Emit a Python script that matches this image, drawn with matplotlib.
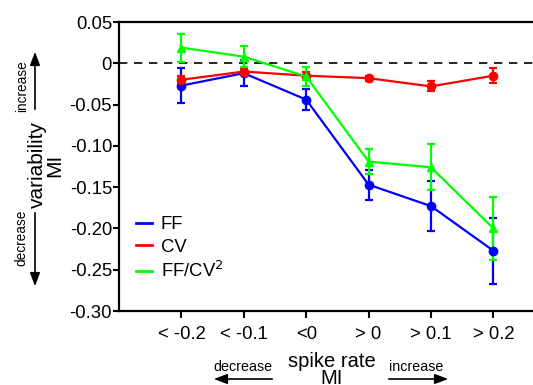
import matplotlib.pyplot as plt
import numpy as np
from matplotlib.lines import Line2D
from matplotlib.patches import FancyArrowPatch

plt.rcParams["font.family"] = ["Liberation Sans", "DejaVu Sans"]

categories = ["< -0.2", "< -0.1", "<0", "> 0", "> 0.1", "> 0.2"]

ff = [-0.027, -0.012, -0.044, -0.147, -0.173, -0.227]
ff_err = [0.021, 0.016, 0.013, 0.018, 0.030, 0.040]

cv = [-0.020, -0.010, -0.015, -0.018, -0.028, -0.015]
cv_err = [0.005, 0.003, 0.004, 0.003, 0.006, 0.009]

ffcv2 = [0.019, 0.008, -0.016, -0.119, -0.126, -0.200]
ffcv2_err = [0.017, 0.013, 0.012, 0.015, 0.028, 0.038]

series = [("FF", ff, ff_err, "#0000ff", "o"),
          ("CV", cv, cv_err, "#ff0000", "o"),
          ("FF/CV$^2$", ffcv2, ffcv2_err, "#00ff00", "^")]

W, H = 533, 385
fig = plt.figure(figsize=(W / 100, H / 100), dpi=100)
ax = fig.add_axes([119 / W, 1 - 311 / H, 1 - 119 / W + 0.01, (311 - 22) / H])

x = np.arange(len(categories))
handles = []
for label, vals, errs, color, marker in series:
    ax.errorbar(x, vals, yerr=errs, color=color, marker=marker, lw=1.6,
                elinewidth=1.6, capsize=3, capthick=1.6, markersize=6)
    handles.append(Line2D([], [], color=color, lw=2, label=label))
ax.axhline(0, color="black", lw=1.2, ls=(0, (5, 4)), zorder=0)

ax.set_xlim(-1, 5.72)
ax.set_ylim(-0.30, 0.05)
ax.set_xticks(x)
ax.set_xticklabels(categories)
ticks = np.arange(-0.30, 0.051, 0.05)
ax.set_yticks(ticks)
ax.set_yticklabels(["0" if abs(t) < 1e-9 else ("%.2f" % t) for t in ticks])
ax.tick_params(labelsize=13.3, width=1.5, length=4, direction="out")
ax.tick_params(axis="y", pad=1)
ax.tick_params(axis="x", length=5, pad=6)
ax.spines["right"].set_visible(False)
for s in ["left", "top", "bottom"]:
    ax.spines[s].set_linewidth(1.6)

ax.legend(handles=handles, loc="lower left", bbox_to_anchor=(0.0, 0.045),
          frameon=False, fontsize=13.3, handlelength=0.9, handletextpad=0.45,
          labelspacing=0.3, borderaxespad=0.5)

arr = dict(arrowstyle="-|>,head_length=0.8,head_width=0.3", color="black",
           lw=1.2, mutation_scale=10, transform=fig.transFigure)


def arrow(x0, y0, x1, y1):
    fig.add_artist(FancyArrowPatch((x0 / W, 1 - y0 / H), (x1 / W, 1 - y1 / H), **arr))


# y label with arrows
fig.text(46 / W, 1 - 165 / H, "variability\nMI", rotation=90, fontsize=15,
         ha="center", va="center", linespacing=0.85)
fig.text(22 / W, 1 - 86 / H, "increase", rotation=90, fontsize=9.8,
         ha="center", va="center")
fig.text(21 / W, 1 - 238 / H, "decrease", rotation=90, fontsize=9.8,
         ha="center", va="center")
arrow(35, 112, 35, 49)
arrow(35, 210, 35, 289)

# x label with arrows
fig.text(332 / W, 1 - 370 / H, "spike rate\nMI", fontsize=14.5, ha="center",
         va="center", linespacing=0.85)
fig.text(243 / W, 1 - 367 / H, "decrease", fontsize=10.3, ha="center", va="center")
fig.text(416 / W, 1 - 367 / H, "increase", fontsize=10.3, ha="center", va="center")
arrow(275, 379, 211, 379)
arrow(386, 379, 451, 379)

fig.savefig("out.png", dpi=100)
